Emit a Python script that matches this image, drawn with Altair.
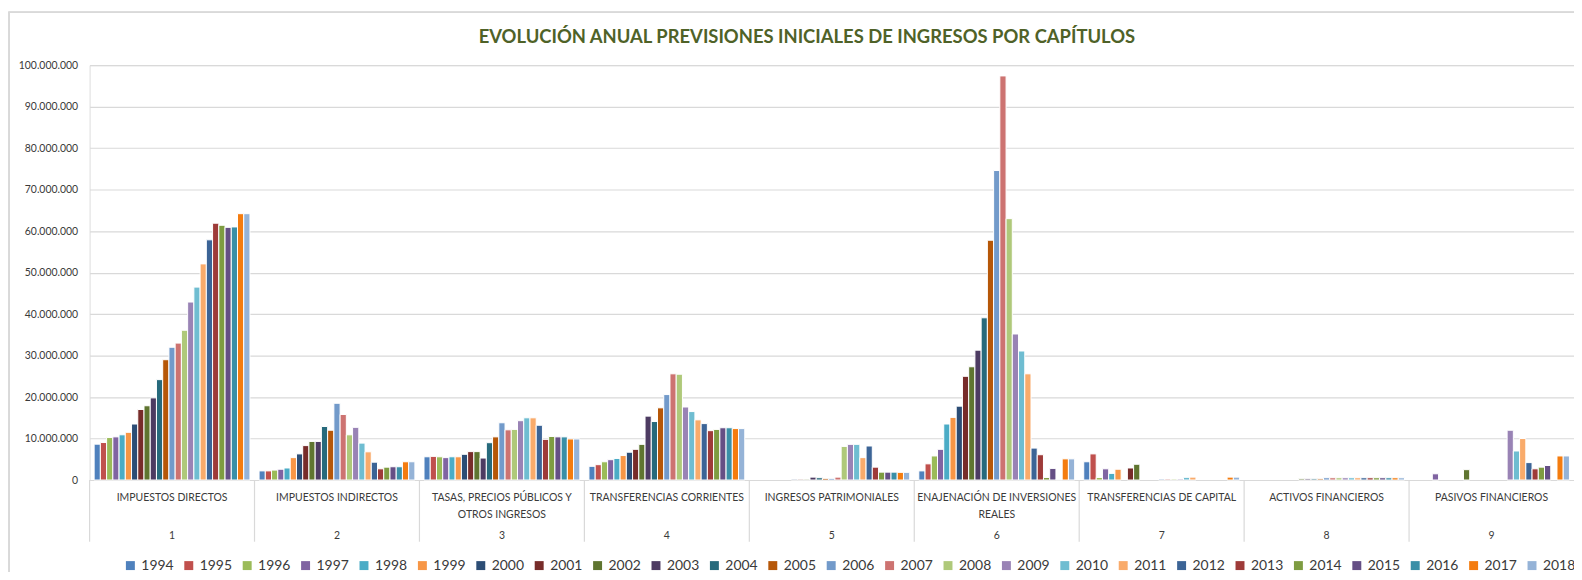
import altair as alt
import pandas as pd

years = [str(y) for y in range(1994, 2019)]
cap_nums = ["1", "2", "3", "4", "5", "6", "7", "8", "9"]
cap_names = [
    "IMPUESTOS DIRECTOS",
    "IMPUESTOS INDIRECTOS",
    "TASAS, PRECIOS PÚBLICOS Y\nOTROS INGRESOS",
    "TRANSFERENCIAS CORRIENTES",
    "INGRESOS PATRIMONIALES",
    "ENAJENACIÓN DE INVERSIONES\nREALES",
    "TRANSFERENCIAS DE CAPITAL",
    "ACTIVOS FINANCIEROS",
    "PASIVOS FINANCIEROS",
]

# values in millions, one list per capítulo, 1994..2018
cap1 = [8.64, 9.04, 10.24, 10.4, 10.9, 11.5, 13.5, 17.0, 17.9, 19.8, 24.2, 29.0, 32.0,
        33.0, 36.1, 42.9, 46.5, 52.1, 57.9, 61.9, 61.4, 60.9, 61.0, 64.2, 64.2]
cap2 = [2.2, 2.2, 2.4, 2.6, 2.9, 5.4, 6.3, 8.3, 9.3, 9.3, 12.9, 12.0, 18.5, 15.8, 10.9,
        12.7, 8.9, 6.8, 4.3, 2.7, 3.1, 3.2, 3.2, 4.4, 4.4]
cap3 = [5.6, 5.7, 5.6, 5.4, 5.6, 5.6, 6.2, 6.85, 6.85, 5.3, 9.0, 10.4, 13.8, 12.1, 12.2,
        14.3, 15.0, 15.0, 13.2, 9.8, 10.5, 10.4, 10.4, 9.9, 9.9]
cap4 = [3.3, 3.7, 4.4, 4.9, 5.2, 5.9, 6.7, 7.4, 8.6, 15.4, 14.1, 17.4, 20.6, 25.6, 25.5,
        17.6, 16.5, 14.5, 13.6, 11.9, 12.2, 12.6, 12.6, 12.4, 12.4]
cap5 = [0, 0, 0, 0, 0, 0, 0.2, 0.2, 0.2, 0.7, 0.56, 0.4, 0.4, 0.7, 8.1, 8.6, 8.6, 5.4,
        8.2, 3.1, 1.9, 1.9, 1.9, 1.85, 1.85]
cap6 = [2.2, 3.9, 5.8, 7.4, 13.5, 15.1, 17.8, 25.0, 27.3, 31.3, 39.1, 57.8, 74.6, 97.4,
        63.0, 35.2, 31.1, 25.6, 7.7, 6.1, 0.6, 2.8, 0.1, 5.1, 5.1]
cap7 = [4.4, 6.3, 0.6, 2.7, 1.6, 2.6, 0, 2.9, 3.8, 0, 0, 0, 0.25, 0.25, 0.25, 0.25, 0.65,
        0.7, 0, 0, 0, 0, 0, 0.7, 0.7]
cap8 = [0, 0, 0, 0, 0, 0, 0, 0, 0.3, 0.3, 0.3, 0.3, 0.55, 0.55, 0.55, 0.55, 0.55, 0.55,
        0.55, 0.55, 0.55, 0.55, 0.55, 0.55, 0.55]
cap9 = [0, 0, 0, 1.5, 0, 0, 0, 0, 2.5, 0, 0, 0, 0, 0, 0, 12.0, 7.0, 10.0, 4.2, 2.7, 3.1,
        3.5, 0, 5.8, 5.8]
series = [cap1, cap2, cap3, cap4, cap5, cap6, cap7, cap8, cap9]

colors = ["#4F81BD", "#C0504D", "#9BBB59", "#8064A2", "#4BACC6", "#F79646",
          "#2C4D75", "#772C2A", "#5F7530", "#4D3B62", "#276A7C", "#B65708",
          "#729ACA", "#CD7371", "#AFC97A", "#9983B5", "#6FBDD1", "#F9AB6B",
          "#3C6496", "#9E3B39", "#7E9C41", "#654F85", "#3A8FA7", "#F47C0F",
          "#95B3D7"]

rows = []
for num, vals in zip(cap_nums, series):
    for yr, v in zip(years, vals):
        rows.append({"cap": num, "year": yr, "value": v * 1e6})
df = pd.DataFrame(rows)
cats = pd.DataFrame({"cap": cap_nums, "name": cap_names})

W, H = 1492, 417
FONT = "Lato"
GRID = "#D9D9D9"
TXT = "#3a3a3a"

xscale = alt.Scale(domain=cap_nums, paddingInner=0, paddingOuter=0)

bars = alt.Chart(df).transform_filter("datum.value > 0").mark_bar(
    stroke="white", strokeWidth=1
).encode(
    x=alt.X("cap:N", scale=xscale,
            axis=alt.Axis(title=None, labels=False, ticks=False, domain=True,
                          domainColor=GRID, domainWidth=1.5, grid=False)),
    xOffset=alt.XOffset("year:N", sort=years,
                        scale=alt.Scale(paddingInner=0, paddingOuter=0.73)),
    y=alt.Y("value:Q", scale=alt.Scale(domain=[0, 100000000], nice=False),
            axis=alt.Axis(title=None, values=[i * 10000000 for i in range(11)],
                          labelExpr="replace(format(datum.value, ','), /,/g, '.')",
                          domain=False, ticks=False, grid=True, gridColor=GRID,
                          gridWidth=1.2, labelFont=FONT, labelFontSize=10.5,
                          labelColor=TXT, labelPadding=12)),
    color=alt.Color("year:N", sort=years,
                    scale=alt.Scale(domain=years, range=colors),
                    legend=alt.Legend(title=None, orient="none", legendX=34, legendY=496,
                                      direction="horizontal", columns=25,
                                      symbolType="square", symbolSize=81,
                                      symbolStrokeWidth=0, labelFont=FONT,
                                      labelFontSize=14, labelColor=TXT,
                                      labelOffset=4, columnPadding=7.7, padding=0)),
)

seps = alt.Chart(cats).mark_rule(color=GRID, strokeWidth=1.2).encode(
    x=alt.X("cap:N", scale=xscale, bandPosition=0, axis=None),
    y=alt.value(H),
    y2=alt.value(H + 62),
)

names = alt.Chart(cats).mark_text(
    font=FONT, fontSize=10.5, color=TXT, baseline="top", lineBreak="\n", lineHeight=17
).encode(
    x=alt.X("cap:N", scale=xscale, axis=None),
    y=alt.value(H + 13),
    text="name:N",
)

nums = alt.Chart(cats).mark_text(
    font=FONT, fontSize=10.5, color=TXT, baseline="middle"
).encode(
    x=alt.X("cap:N", scale=xscale, axis=None),
    y=alt.value(H + 56),
    text="cap:N",
)

frame = alt.Chart(cats).mark_rect(filled=False, stroke=GRID, strokeWidth=1.2).encode(
    x=alt.value(-81), x2=alt.value(W + 60),
    y=alt.value(-53), y2=alt.value(H + 200),
)

chart = alt.layer(frame, bars, seps, names, nums).properties(
    width=W, height=H,
    padding={"left": 82, "top": 56, "right": 0, "bottom": 91},
    autosize=alt.AutoSizeParams(type="none"),
    title=alt.TitleParams(
        text="EVOLUCIÓN ANUAL PREVISIONES INICIALES DE INGRESOS POR CAPÍTULOS",
        anchor="middle", frame="group", dx=-25, dy=56.5, offset=22, font=FONT,
        fontSize=18.5, fontWeight="bold", color="#4F6228"),
).configure_view(stroke="transparent").configure(background="white")

chart.save("out.html", embed_options={"renderer": "svg", "actions": False})
